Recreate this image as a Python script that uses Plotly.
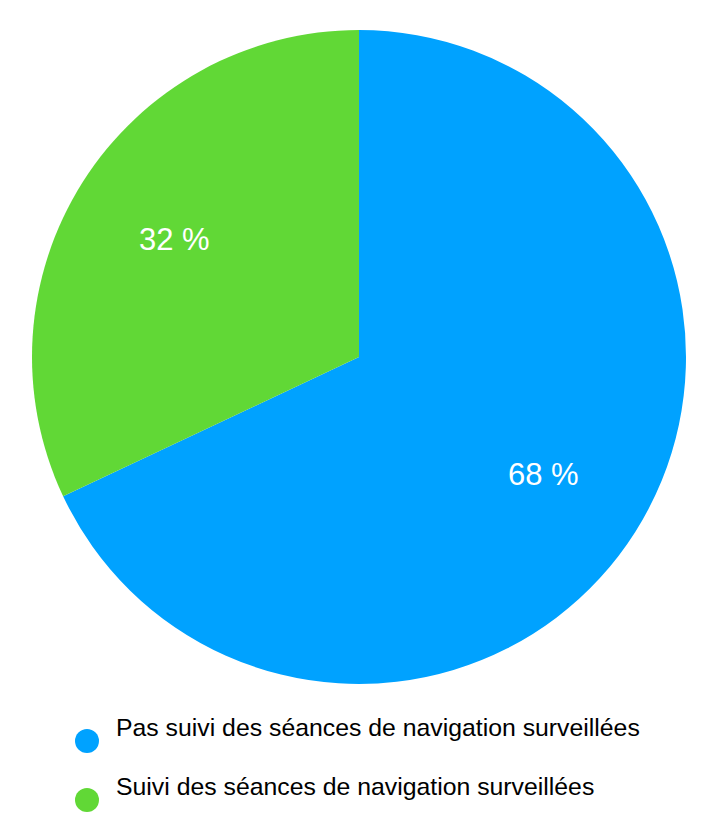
import math
import plotly.graph_objects as go

W, H = 716, 835
OFF = 8  # page body margin pushes the figure 8px right/down

# --- data ---
labels = ["Pas suivi des séances de navigation surveillées",
          "Suivi des séances de navigation surveillées"]
values = [68, 32]
colors = ["#00A2FF", "#61D836"]
slice_text = [f"{v} %" for v in values]

# pie geometry in pixels of the picture (centre 359,357 ; radius 327)
cx, cy, r = 359 - OFF, 357 - OFF, 327


def px(x):
    return x / W


def py(y):
    return (H - y) / H


fig = go.Figure(go.Pie(
    labels=labels,
    values=values,
    textinfo="none",
    marker=dict(colors=colors, line=dict(width=0)),
    sort=False,
    direction="clockwise",
    rotation=0,
    showlegend=False,
    hoverinfo="label+percent",
    domain=dict(x=[px(cx - r), px(cx + r)], y=[py(cy + r), py(cy - r)]),
))

annotations = []
shapes = []

# slice labels at mid-angle, ~2/3 of the radius
total = sum(values)
start = 0.0
for v, t in zip(values, slice_text):
    mid = (start + v / 2) / total * 2 * math.pi
    start += v
    lx = cx + 0.67 * r * math.sin(mid)
    ly = cy - 0.67 * r * math.cos(mid)
    annotations.append(dict(text=t, xref="paper", yref="paper",
                            x=px(lx), y=py(ly), xanchor="center", yanchor="middle",
                            showarrow=False,
                            font=dict(family="Liberation Sans", size=31, color="white")))

# --- hand-made legend (round markers, text a bit above the dot) ---
dot_y = [741, 800]
text_y = [727, 786]
for lab, col, dy, ty in zip(labels, colors, dot_y, text_y):
    dy -= OFF
    ty -= OFF
    shapes.append(dict(type="circle", xref="paper", yref="paper",
                       x0=px(75 - OFF), x1=px(99 - OFF),
                       y0=py(dy + 12), y1=py(dy - 12),
                       fillcolor=col, line=dict(width=0)))
    annotations.append(dict(text=lab, xref="paper", yref="paper",
                            x=px(114 - OFF), y=py(ty),
                            xanchor="left", yanchor="middle",
                            showarrow=False,
                            font=dict(family="Liberation Sans", size=24.8, color="black")))

fig.update_layout(
    width=W, height=H,
    margin=dict(l=0, r=0, t=0, b=0),
    paper_bgcolor="white",
    plot_bgcolor="white",
    shapes=shapes,
    annotations=annotations,
)

fig.write_html("out.html")
